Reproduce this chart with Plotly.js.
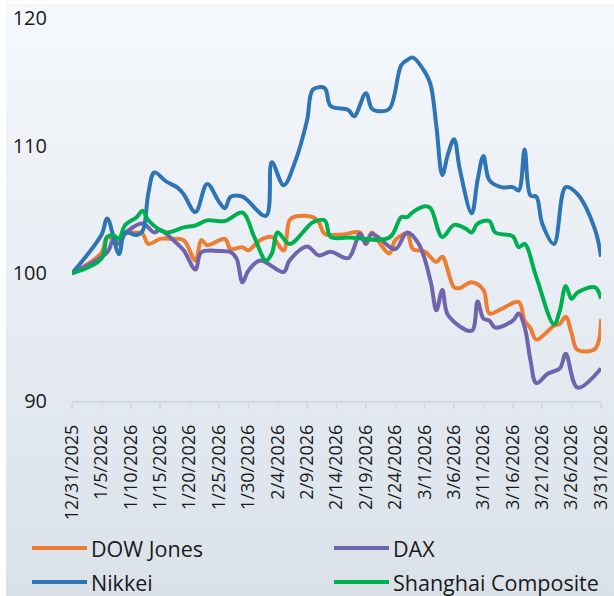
<!DOCTYPE html>
<html><head><meta charset="utf-8">
<script src="https://cdn.plot.ly/plotly-3.0.1.min.js"></script>
<style>
html,body{margin:0;padding:0;background:#fff;}
#bg{position:absolute;left:6px;top:4px;width:608px;height:592px;background:linear-gradient(to bottom,#f5f8fc 0%,#dae1e9 100%);}
#chart{position:absolute;left:0;top:0;width:614px;height:596px;}
</style></head><body>
<div id="bg"></div><div id="chart"></div>
<script>
const seriesNames = ["DOW Jones", "DAX", "Nikkei", "Shanghai Composite"];
const seriesColors = ["#ED7D31", "#7064AE", "#2E75B6", "#00B050"];

const dowDates = ["2025-12-31","2026-01-05","2026-01-06","2026-01-08","2026-01-09","2026-01-11","2026-01-12","2026-01-13","2026-01-15","2026-01-17","2026-01-19","2026-01-21","2026-01-22","2026-01-23","2026-01-26","2026-01-27","2026-01-29","2026-01-30","2026-02-01","2026-02-03","2026-02-05","2026-02-06","2026-02-07","2026-02-10","2026-02-11","2026-02-12","2026-02-15","2026-02-18","2026-02-19","2026-02-20","2026-02-21","2026-02-23","2026-02-24","2026-02-26","2026-02-27","2026-03-01","2026-03-03","2026-03-04","2026-03-06","2026-03-07","2026-03-09","2026-03-11","2026-03-12","2026-03-14","2026-03-17","2026-03-18","2026-03-19","2026-03-20","2026-03-23","2026-03-24","2026-03-25","2026-03-26","2026-03-27","2026-03-30","2026-03-31"];
const dowValues = [100,101.6,102.85,102.45,103.1,103.2,103.1,102.3,102.7,102.7,102.6,101.0,102.6,102.2,102.7,101.9,102.05,101.8,102.6,102.85,101.8,104.15,104.45,104.4,104.0,103.1,103.05,103.2,102.3,103.2,102.6,101.55,102.6,103.1,101.9,101.7,100.9,101.3,98.9,98.85,99.3,98.7,96.85,97.2,97.75,96.3,95.7,94.8,95.9,96.05,96.6,95.3,94.0,94.1,96.4];

const daxDates = ["2025-12-31","2026-01-06","2026-01-07","2026-01-08","2026-01-09","2026-01-12","2026-01-14","2026-01-15","2026-01-17","2026-01-19","2026-01-21","2026-01-22","2026-01-25","2026-01-27","2026-01-28","2026-01-29","2026-01-30","2026-02-01","2026-02-05","2026-02-06","2026-02-09","2026-02-11","2026-02-13","2026-02-16","2026-02-18","2026-02-19","2026-02-20","2026-02-24","2026-02-26","2026-02-28","2026-03-02","2026-03-03","2026-03-04","2026-03-05","2026-03-09","2026-03-10","2026-03-11","2026-03-12","2026-03-13","2026-03-16","2026-03-17","2026-03-18","2026-03-19","2026-03-20","2026-03-22","2026-03-24","2026-03-25","2026-03-27","2026-03-31"];
const daxValues = [100,101.65,102.6,102.3,103.1,103.9,103.2,103.4,102.7,101.8,100.3,101.65,101.75,101.65,101.15,99.3,100.2,101.0,100.1,101.0,102.1,101.4,101.7,101.2,103.1,102.3,103.1,101.9,103.2,102.3,99.4,97.1,98.7,96.7,95.5,97.8,96.45,96.3,95.75,96.3,96.85,95.8,93.2,91.4,92.15,92.55,93.7,91.05,92.55];

const nikkeiDates = ["2025-12-31","2026-01-05","2026-01-06","2026-01-08","2026-01-09","2026-01-11","2026-01-12","2026-01-13","2026-01-14","2026-01-16","2026-01-18","2026-01-19","2026-01-21","2026-01-23","2026-01-25","2026-01-26","2026-01-27","2026-01-29","2026-02-02","2026-02-03","2026-02-05","2026-02-07","2026-02-09","2026-02-10","2026-02-12","2026-02-13","2026-02-16","2026-02-17","2026-02-19","2026-02-20","2026-02-21","2026-02-23","2026-02-25","2026-02-26","2026-02-27","2026-03-01","2026-03-02","2026-03-03","2026-03-04","2026-03-05","2026-03-06","2026-03-07","2026-03-09","2026-03-10","2026-03-11","2026-03-12","2026-03-14","2026-03-16","2026-03-17","2026-03-18","2026-03-19","2026-03-20","2026-03-21","2026-03-23","2026-03-25","2026-03-27","2026-03-30","2026-03-31"];
const nikkeiValues = [100,103.0,104.3,101.5,103.2,103.0,103.3,106.3,107.9,107.2,106.7,106.2,104.8,107.0,105.6,105.1,106.0,106.0,104.5,108.7,106.9,108.8,112.0,114.4,114.5,113.1,112.8,112.3,114.1,112.9,112.7,112.9,116.3,116.7,116.9,115.8,114.8,111.5,107.7,109.4,110.5,108.1,104.7,107.3,109.2,107.3,106.75,106.75,106.5,109.7,106.1,106.0,103.9,102.3,106.75,106.2,103.4,101.3];

const shanghaiDates = ["2025-12-31","2026-01-05","2026-01-06","2026-01-07","2026-01-08","2026-01-09","2026-01-11","2026-01-12","2026-01-13","2026-01-16","2026-01-19","2026-01-21","2026-01-23","2026-01-26","2026-01-29","2026-01-31","2026-02-02","2026-02-03","2026-02-04","2026-02-06","2026-02-10","2026-02-12","2026-02-13","2026-02-16","2026-02-23","2026-02-25","2026-02-26","2026-02-27","2026-03-01","2026-03-02","2026-03-04","2026-03-06","2026-03-08","2026-03-09","2026-03-10","2026-03-12","2026-03-13","2026-03-16","2026-03-17","2026-03-18","2026-03-20","2026-03-23","2026-03-24","2026-03-25","2026-03-26","2026-03-27","2026-03-30","2026-03-31"];
const shanghaiValues = [100,101.15,102.85,103.0,102.7,103.75,104.4,104.9,104.15,103.2,103.6,103.75,104.15,104.1,104.75,102.85,101.0,101.55,103.2,102.3,104.0,104.15,102.85,102.8,102.8,104.4,104.4,104.8,105.25,105.1,102.85,103.8,103.5,103.2,103.9,104.1,103.2,102.9,102.05,102.3,99.7,96.0,97.1,99.0,98.0,98.5,98.9,98.0];

const tickDates = ["2025-12-31","2026-01-05","2026-01-10","2026-01-15","2026-01-20","2026-01-25","2026-01-30","2026-02-04","2026-02-09","2026-02-14","2026-02-19","2026-02-24","2026-03-01","2026-03-06","2026-03-11","2026-03-16","2026-03-21","2026-03-26","2026-03-31"];
const tickLabels = ["12/31/2025","1/5/2026","1/10/2026","1/15/2026","1/20/2026","1/25/2026","1/30/2026","2/4/2026","2/9/2026","2/14/2026","2/19/2026","2/24/2026","3/1/2026","3/6/2026","3/11/2026","3/16/2026","3/21/2026","3/26/2026","3/31/2026"];
const yTicks = [90, 100, 110, 120];

const xs = [dowDates, daxDates, nikkeiDates, shanghaiDates];
const ys = [dowValues, daxValues, nikkeiValues, shanghaiValues];

const traces = seriesNames.map((n, i) => ({
  type: "scatter", mode: "lines", name: n,
  x: xs[i], y: ys[i],
  line: {color: seriesColors[i], width: 4, shape: "spline", smoothing: 1},
  showlegend: false, hoverinfo: "skip"
}));

// manual legend (layout geometry in pixels -> paper units)
const W = 614, H = 596, L = 72, R = 13, T = 18, B = 195;
const pw = W - L - R, ph = H - T - B;
const px = v => (v - L) / pw;
const py = v => (H - B - v) / ph;
const legCols = [32, 334];
const legRows = [548, 582];
const shapes = [], annotations = [];
seriesNames.forEach((n, i) => {
  const cx = legCols[i % 2], cy = legRows[Math.floor(i / 2)];
  shapes.push({type: "line", xref: "paper", yref: "paper",
    x0: px(cx), x1: px(cx + 55), y0: py(cy), y1: py(cy),
    line: {color: seriesColors[i], width: 4}});
  annotations.push({xref: "paper", yref: "paper", x: px(cx + 57), y: py(cy),
    xanchor: "left", yanchor: "middle", text: n, showarrow: false,
    font: {family: "Open Sans, sans-serif", size: 21.5, color: "#1a1a1a"}});
});

const layout = {
  width: W, height: H,
  margin: {l: L, r: R, t: T, b: B},
  paper_bgcolor: "rgba(0,0,0,0)", plot_bgcolor: "rgba(0,0,0,0)",
  font: {family: "Open Sans, sans-serif", color: "#1a1a1a"},
  showlegend: false,
  xaxis: {
    type: "date", range: ["2025-12-31", "2026-03-31"],
    tickmode: "array", tickvals: tickDates, ticktext: tickLabels,
    tickangle: -90, ticks: "outside", ticklen: 6, tickwidth: 1.5, tickcolor: "#d5d9dd",
    ticklabelstandoff: 9,
    showline: true, linecolor: "#d5d9dd", linewidth: 1.5,
    showgrid: false, zeroline: false,
    tickfont: {size: 18, color: "#1a1a1a"}
  },
  yaxis: {
    range: [90, 120], tickmode: "array", tickvals: yTicks,
    ticks: "outside", ticklen: 20, tickcolor: "rgba(0,0,0,0)",
    showline: false, showgrid: false, zeroline: false,
    tickfont: {size: 20, color: "#1a1a1a"}
  },
  shapes: shapes, annotations: annotations
};

Plotly.newPlot("chart", traces, layout, {staticPlot: true, displayModeBar: false});
</script></body></html>
